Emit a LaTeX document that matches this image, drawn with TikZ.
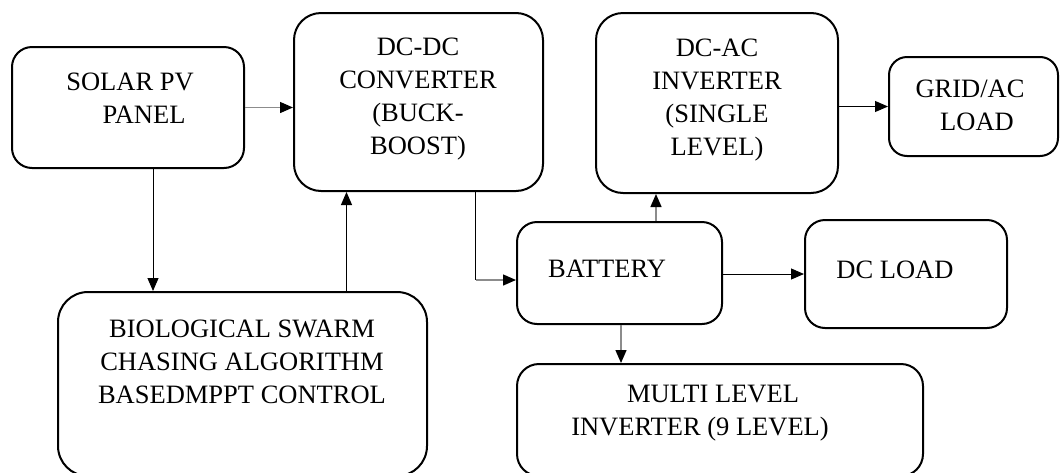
\documentclass[tikz,border=0pt]{standalone}
\usepackage{fontspec}
\setmainfont{Liberation Serif}
\usepackage{tikz}
\usetikzlibrary{arrows.meta,positioning,calc}

\begin{document}
\begin{tikzpicture}[
  x=1pt, y=-1pt,
  >={Triangle[length=13pt,width=11pt,color=black]},
  font=\fontsize{26.5}{33}\selectfont,
  blk/.style={draw, line width=2pt, rectangle, inner sep=0pt},
  txt/.style={align=center, inner sep=0pt},
  link/.style={->, line width=1pt, black},
  glink/.style={->, line width=1.4pt, black!45}
]
\useasboundingbox (0,0) rectangle (1061,472);

% Blocks
\node[blk, minimum width=232pt, minimum height=121pt, rounded corners=20pt] (solar) at (128,107.5) {};
\node[blk, minimum width=249pt, minimum height=178pt, rounded corners=27pt] (dcdc) at (418.5,102) {};
\node[blk, minimum width=242pt, minimum height=180pt, rounded corners=27pt] (dcac) at (717,103) {};
\node[blk, minimum width=169pt, minimum height=99pt, rounded corners=18pt] (grid) at (973.5,106.5) {};
\node[blk, minimum width=205pt, minimum height=102pt, rounded corners=20pt] (bat) at (619.5,273) {};
\node[blk, minimum width=202pt, minimum height=108pt, rounded corners=20pt] (dcl) at (906,274) {};
\node[blk, minimum width=369pt, minimum height=184pt, rounded corners=30pt] (bio) at (242.5,384) {};
\node[blk, minimum width=406pt, minimum height=112pt, rounded corners=22pt] (multi) at (720,420) {};

% Texts
\node[txt] (solarT) at (130,98) {SOLAR PV\\\hspace*{28pt}PANEL};
\node[txt] (dcdcT) at (418,99) {DC-DC\\CONVERTER\\(BUCK-\\BOOST)};
\node[txt] (dcacT) at (717,100) {DC-AC\\INVERTER\\(SINGLE\\LEVEL)};
\node[txt] (gridT) at (970,105) {GRID/AC\\\hspace*{14pt}LOAD};
\node[txt] (batT) at (607,269) {BATTERY};
\node[txt] (dclT) at (895,270) {DC LOAD};
\node[txt] (bioT) at (242,362) {BIOLOGICAL SWARM\\CHASING ALGORITHM\\BASEDMPPT CONTROL};
\node[txt] (multiT) at (700,413.5) {\hspace*{26pt}MULTI LEVEL\\INVERTER (9 LEVEL)};

% Connectors
\draw[glink] (solar.east) -- (solar.east -| dcdc.west);
\draw[link] ([xshift=25pt]solar.south) -- ([xshift=25pt]solar.south |- bio.north);
\draw[link] ([xshift=-72pt]dcdc.south |- bio.north) -- ([xshift=-72pt]dcdc.south);
\draw[line width=1pt] ([xshift=57pt]dcdc.south) -- ([xshift=57pt,yshift=-7pt]dcdc.south |- bat.west);
\draw[glink] ([xshift=57pt,yshift=-7pt]dcdc.south |- bat.west) -- ([yshift=-7pt]bat.west);
\draw[glink] ([xshift=36.5pt]bat.north) -- ([xshift=36.5pt]bat.north |- dcac.south);
\draw[link] ([yshift=-1pt]bat.east) -- ([yshift=-1pt]bat.east -| dcl.west);
\draw[link] (dcac.east |- grid.west) -- (grid.west);
\draw[glink] ([xshift=1.5pt]bat.south) -- ([xshift=1.5pt]bat.south |- multi.north);

\end{tikzpicture}
\end{document}
